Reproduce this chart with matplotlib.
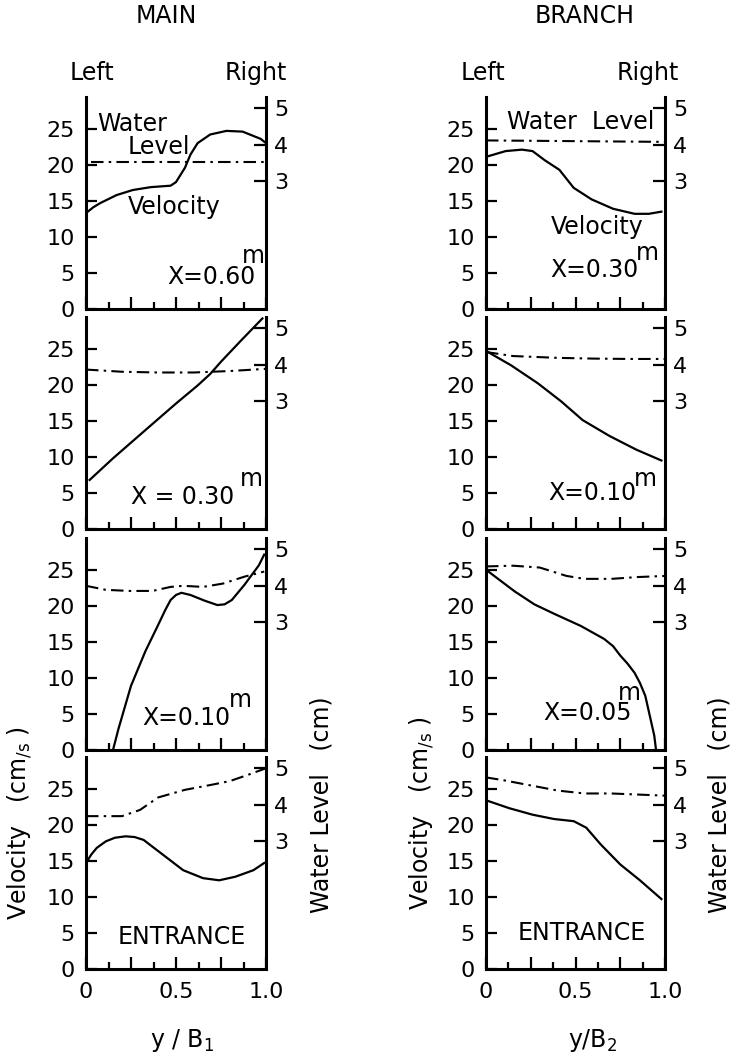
import matplotlib

matplotlib.use("Agg")
from matplotlib import pyplot as plt

W, H = 737, 1053
FONT = 16
TEXT = 17

# velocity (cm/s) and water level (cm) against y/B
# ---- MAIN channel ----
main_x060_vel_y = [0, 0.04, 0.08, 0.17, 0.26, 0.36, 0.47, 0.50, 0.55, 0.58, 0.62, 0.69, 0.78, 0.87, 0.97, 1.0]
main_x060_vel = [13.3, 14.1, 14.7, 15.8, 16.5, 16.9, 17.1, 17.6, 19.6, 21.4, 23.0, 24.2, 24.7, 24.6, 23.6, 23.0]
main_x060_wl_y = [0.03, 1.0]
main_x060_wl = [3.52, 3.52]

main_x030_vel_y = [0.02, 0.15, 0.32, 0.5, 0.62, 0.69, 0.75, 0.86, 0.98]
main_x030_vel = [6.8, 9.8, 13.5, 17.4, 19.9, 21.5, 23.2, 26.1, 29.2]
main_x030_wl_y = [0, 0.2, 0.4, 0.6, 0.8, 1.0]
main_x030_wl = [3.87, 3.81, 3.79, 3.79, 3.83, 3.89]

main_x010_vel_y = [0.15, 0.18, 0.25, 0.33, 0.40, 0.44, 0.47, 0.50, 0.53, 0.58, 0.66, 0.73, 0.77, 0.81, 0.88, 0.96, 0.99]
main_x010_vel = [0, 2.9, 8.9, 13.7, 17.3, 19.4, 20.8, 21.5, 21.8, 21.5, 20.7, 20.1, 20.2, 20.8, 22.9, 25.6, 27.1]
main_x010_wl_y = [0, 0.11, 0.24, 0.37, 0.47, 0.54, 0.65, 0.76, 0.88, 0.99]
main_x010_wl = [4.0, 3.89, 3.86, 3.86, 3.97, 4.0, 3.97, 4.06, 4.25, 4.39]

main_ent_vel_y = [0, 0.03, 0.06, 0.11, 0.16, 0.22, 0.27, 0.32, 0.43, 0.54, 0.65, 0.74, 0.83, 0.93, 0.99]
main_ent_vel = [14.7, 15.9, 16.8, 17.7, 18.2, 18.4, 18.3, 17.9, 15.8, 13.7, 12.6, 12.3, 12.8, 13.7, 14.7]
main_ent_wl_y = [0, 0.2, 0.3, 0.4, 0.55, 0.7, 0.8, 0.9, 1.0]
main_ent_wl = [3.69, 3.69, 3.86, 4.2, 4.41, 4.55, 4.65, 4.82, 5.0]

# ---- BRANCH channel ----
br_x030_vel_y = [0, 0.11, 0.2, 0.26, 0.33, 0.41, 0.49, 0.59, 0.71, 0.83, 0.91, 0.98]
br_x030_vel = [21.1, 21.9, 22.1, 21.9, 20.6, 19.3, 16.8, 15.2, 13.9, 13.2, 13.2, 13.5]
br_x030_wl_y = [0, 1.0]
br_x030_wl = [4.12, 4.08]

br_x010_vel_y = [0, 0.14, 0.29, 0.42, 0.54, 0.69, 0.84, 0.98]
br_x010_vel = [24.7, 22.7, 20.2, 17.7, 15.1, 12.9, 11.0, 9.5]
br_x010_wl_y = [0, 0.15, 0.4, 0.6, 0.8, 1.0]
br_x010_wl = [4.35, 4.24, 4.19, 4.17, 4.16, 4.16]

br_x005_vel_y = [0, 0.16, 0.27, 0.38, 0.53, 0.66, 0.71, 0.75, 0.79, 0.83, 0.86, 0.89, 0.92, 0.94, 0.95]
br_x005_vel = [25.0, 22.0, 20.2, 18.9, 17.2, 15.4, 14.4, 13.1, 12.0, 10.7, 9.3, 7.5, 4.2, 2.0, 0]
br_x005_wl_y = [0, 0.15, 0.3, 0.45, 0.55, 0.7, 0.85, 1.0]
br_x005_wl = [4.53, 4.55, 4.5, 4.27, 4.19, 4.19, 4.24, 4.27]

br_ent_vel_y = [0, 0.13, 0.26, 0.38, 0.49, 0.56, 0.64, 0.75, 0.86, 0.98]
br_ent_vel = [23.4, 22.3, 21.4, 20.8, 20.5, 19.6, 17.3, 14.5, 12.3, 9.7]
br_ent_wl_y = [0, 0.1, 0.25, 0.4, 0.55, 0.7, 0.85, 1.0]
br_ent_wl = [4.75, 4.67, 4.53, 4.39, 4.31, 4.31, 4.28, 4.25]

vel_ticks = [0, 5, 10, 15, 20, 25]
wl_ticks = [3, 4, 5]
x_ticks = [0, 0.25, 0.5, 0.75, 1.0]
x_ticklabels = ["0", "", "0.5", "", "1.0"]
x_minor = [0.125, 0.375, 0.625, 0.875]

VEL_TOP = 29.4
# water level axis: 3 cm sits at 17.7 cm/s, 1 cm spans 5.07 cm/s
WL_LIM = (3 - 17.7 / 5.07, 3 + (VEL_TOP - 17.7) / 5.07)

PANEL_BOTTOMS = [309, 529, 750, 969]
PANEL_H = 212
COLUMNS = {"main": (86, 266), "branch": (486, 665)}

SOLID = {"color": "black", "linewidth": 1.6}
DASHDOT = {"color": "black", "linewidth": 1.5, "linestyle": (0, (6, 2.5, 1.2, 2.5))}


def px_box(left, top, right, bottom):
    return [left / W, 1 - bottom / H, (right - left) / W, (bottom - top) / H]


def make_panel(fig, col, row, vel_y, vel, wl_y, wl, last=False):
    left, right = COLUMNS[col]
    bottom = PANEL_BOTTOMS[row]
    ax = fig.add_axes(px_box(left, bottom - PANEL_H, right, bottom))
    ax2 = ax.twinx()

    ax.plot(vel_y, vel, **SOLID)
    ax2.plot(wl_y, wl, **DASHDOT)

    ax.set_xlim(0, 1)
    ax.set_ylim(0, VEL_TOP)
    ax2.set_ylim(*WL_LIM)

    for a in (ax, ax2):
        a.spines["top"].set_visible(False)
        a.patch.set_visible(False)
    ax.spines["right"].set_visible(False)
    for s in ("left", "bottom"):
        ax.spines[s].set_linewidth(2.2)
        ax2.spines[s].set_visible(False)
    ax2.spines["right"].set_linewidth(2.2)

    ax.set_yticks(vel_ticks)
    ax.tick_params(axis="y", direction="in", length=8, width=1.6,
                   labelsize=FONT, pad=8)
    ax2.set_yticks(wl_ticks)
    ax2.tick_params(axis="y", direction="in", length=9, width=1.6,
                    labelsize=FONT, pad=6)

    ax.set_xticks(x_ticks)
    ax.set_xticks(x_minor, minor=True)
    ax.tick_params(axis="x", which="major", direction="in", length=9,
                   width=1.6, labelsize=FONT, pad=9)
    ax.tick_params(axis="x", which="minor", direction="in", length=5, width=1.6)
    if last:
        ax.set_xticklabels(x_ticklabels)
    else:
        ax.set_xticklabels([])
    return ax


def station(ax, label, x, y, mx, my):
    ax.text(x, y, label, fontsize=TEXT, ha="left", va="center")
    ax.text(mx, my, "m", fontsize=TEXT, ha="center", va="center")


plt.rcParams["font.family"] = ["DejaVu Sans"]
fig = plt.figure(figsize=(W / 100, H / 100), dpi=100)

# main column
ax = make_panel(fig, "main", 0, main_x060_vel_y, main_x060_vel, main_x060_wl_y, main_x060_wl)
ax.text(0.06, 25.6, "Water", fontsize=TEXT, ha="left", va="center")
ax.text(0.23, 22.4, "Level", fontsize=TEXT, ha="left", va="center")
ax.text(0.23, 14.2, "Velocity", fontsize=TEXT, ha="left", va="center")
station(ax, "X=0.60", 0.45, 4.4, 0.93, 7.3)

ax = make_panel(fig, "main", 1, main_x030_vel_y, main_x030_vel, main_x030_wl_y, main_x030_wl)
station(ax, "X = 0.30", 0.25, 4.4, 0.92, 6.9)

ax = make_panel(fig, "main", 2, main_x010_vel_y, main_x010_vel, main_x010_wl_y, main_x010_wl)
station(ax, "X=0.10", 0.31, 4.4, 0.86, 6.9)

ax = make_panel(fig, "main", 3, main_ent_vel_y, main_ent_vel, main_ent_wl_y, main_ent_wl, last=True)
ax.text(0.53, 4.4, "ENTRANCE", fontsize=TEXT, ha="center", va="center")

# branch column
ax = make_panel(fig, "branch", 0, br_x030_vel_y, br_x030_vel, br_x030_wl_y, br_x030_wl)
ax.text(0.53, 26.0, "Water  Level", fontsize=TEXT, ha="center", va="center")
ax.text(0.36, 11.4, "Velocity", fontsize=TEXT, ha="left", va="center")
station(ax, "X=0.30", 0.36, 5.4, 0.9, 7.7)

ax = make_panel(fig, "branch", 1, br_x010_vel_y, br_x010_vel, br_x010_wl_y, br_x010_wl)
station(ax, "X=0.10", 0.35, 5.0, 0.89, 6.9)

ax = make_panel(fig, "branch", 2, br_x005_vel_y, br_x005_vel, br_x005_wl_y, br_x005_wl)
station(ax, "X=0.05", 0.32, 5.1, 0.8, 7.9)

ax = make_panel(fig, "branch", 3, br_ent_vel_y, br_ent_vel, br_ent_wl_y, br_ent_wl, last=True)
ax.text(0.535, 5.0, "ENTRANCE", fontsize=TEXT, ha="center", va="center")


def ftext(x, y, s, size=TEXT, **kw):
    fig.text(x / W, 1 - y / H, s, fontsize=size, ha="center", va="center", **kw)


ftext(166, 16, "MAIN")
ftext(585, 16, "BRANCH")
for lx, rx in ((92, 256), (483, 648)):
    ftext(lx, 73, "Left")
    ftext(rx, 73, "Right")

ftext(20, 823, r"Velocity   (cm$_{/\mathrm{s}}$ )", rotation=90)
ftext(422, 813, r"Velocity   (cm$_{/\mathrm{s}}$ )", rotation=90)
ftext(322, 805, "Water Level   (cm)", rotation=90)
ftext(720, 805, "Water Level   (cm)", rotation=90)
ftext(182, 1040, r"y / B$_1$")
ftext(593, 1040, r"y/B$_2$")

fig.savefig("out.png", dpi=100)
